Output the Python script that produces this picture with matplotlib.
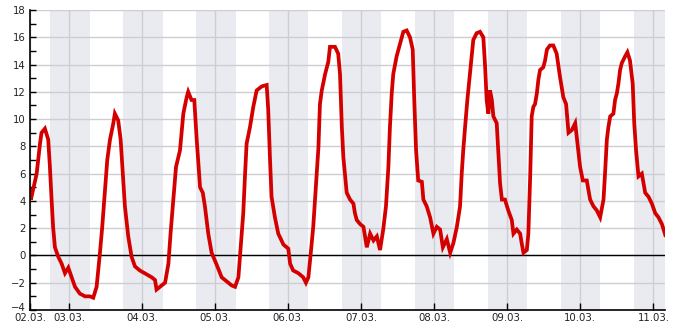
import matplotlib
matplotlib.use("Agg")
import matplotlib.pyplot as plt
import matplotlib.transforms as mtransforms
from matplotlib.ticker import MultipleLocator, FixedLocator

# hours since 02.03. 00:00
hours = [11.2, 11.4, 13.3, 14.4, 14.9, 16.0, 17.1, 17.65, 18.2, 18.7, 19.3, 20.4, 21.5, 22.6, 23.7,
         24.8, 25.9, 27.5, 29.2, 30.8, 31.9, 33.0, 34.1, 34.85, 35.7, 36.5, 37.4, 38.5, 39.0,
         40.1, 40.9, 41.6, 42.3, 43.4, 44.5, 45.6, 47.2, 49.5, 51.1, 52.2, 52.7, 53.8, 55.5,
         56.6, 57.3, 58.2, 59.1, 60.4, 61.5, 62.6, 63.1, 64.2, 65.1, 65.9, 67.0, 67.9, 68.6,
         69.7, 70.8, 72.5, 74.1, 75.75, 77.4, 78.5, 79.6, 80.1, 81.2, 81.8, 82.3, 83.4, 84.5,
         85.6, 87.3, 88.9, 89.4, 90.0, 90.5, 91.6, 92.7, 94.4, 96.0, 96.6, 97.6, 99.3, 100.9,
         101.8, 102.6, 103.4, 104.2, 105.3, 105.9, 106.4, 107.0, 108.1, 109.15, 109.7, 111.35,
         112.4, 113.0, 113.6, 114.1, 115.2, 116.3, 117.4, 117.9, 118.5, 119.6, 120.7, 121.8,
         122.9, 124.0, 125.1, 126.15, 127.2, 128.1, 128.9, 129.4, 130.0, 130.5, 131.6, 132.7,
         133.8, 134.9, 136.0, 136.9, 137.4, 138.0, 138.7, 139.9, 140.4, 141.5, 142.6, 143.7,
         144.8, 145.9, 146.8, 148.1, 149.2, 150.25, 151.4, 152.45, 153.0, 153.5, 154.1, 154.85,
         155.7, 156.3, 156.8, 157.9, 159.0, 160.1, 160.7, 161.2, 161.75, 162.3, 162.9, 163.4,
         164.5, 165.0, 165.6, 166.2, 167.2, 168.3, 169.45, 170.0, 171.1, 172.2, 172.7, 173.3,
         174.4, 174.9, 175.5, 176.0, 176.55, 177.1, 177.7, 178.2, 178.75, 179.8, 180.4, 181.0,
         182.0, 183.1, 184.2, 185.3, 186.4, 187.3, 188.1, 189.2, 190.3, 190.8, 191.9, 192.8,
         194.1, 195.2, 196.3, 197.4, 198.5, 199.6, 200.1, 200.7, 201.2, 201.8, 202.85, 203.4,
         204.0, 204.5, 205.05, 205.6, 206.7, 207.45, 208.3, 209.2, 209.7, 210.3, 211.1, 212.2,
         213.3, 214.4, 215.5, 216.6, 217.65, 218.8, 219.9]
temps = [4.8, 4.1, 6.0, 8.2, 9.0, 9.3, 8.5, 6.5, 4.1, 2.1, 0.6, -0.1, -0.6, -1.3, -0.9,
         -1.6, -2.3, -2.8, -3.0, -3.0, -3.1, -2.3, 0.2, 2.1, 4.6, 7.0, 8.5, 9.7, 10.4,
         9.9, 8.5, 6.0, 3.6, 1.4, -0.1, -0.8, -1.1, -1.4, -1.6, -1.8, -2.5, -2.3, -2.0,
         -0.6, 1.6, 4.1, 6.5, 7.7, 10.4, 11.6, 12.0, 11.4, 11.4, 8.5, 5.0, 4.6, 3.6,
         1.6, 0.2, -0.7, -1.6, -1.9, -2.2, -2.3, -1.6, -0.1, 3.1, 6.0, 8.2, 9.4, 10.9,
         12.1, 12.4, 12.5, 10.7, 7.0, 4.3, 2.8, 1.6, 0.8, 0.5, -0.6, -1.1, -1.3, -1.6,
         -2.0, -1.6, 0.2, 2.1, 5.8, 7.9, 11.1, 12.1, 13.3, 14.2, 15.3, 15.3,
         14.8, 13.3, 9.4, 7.2, 4.6, 4.1, 3.8, 3.1, 2.6, 2.3, 2.1, 0.6,
         1.6, 1.1, 1.4, 0.4, 1.9, 3.6, 6.5, 9.4, 11.9, 13.3, 14.6, 15.5,
         16.4, 16.5, 16.0, 15.1, 11.4, 7.7, 5.5, 5.4, 4.1, 3.6, 2.8, 1.6,
         2.1, 1.9, 0.6, 1.2, 0.2, 0.9, 2.1, 3.6, 6.0, 7.7, 9.4, 11.4,
         13.3, 14.6, 15.8, 16.3, 16.4, 16.0, 13.8, 11.4, 10.4, 12.1, 11.4, 10.2,
         9.7, 7.7, 5.3, 4.1, 4.1, 3.3, 2.6, 1.6, 1.9, 1.6, 0.9, 0.2,
         0.4, 1.6, 5.8, 10.2, 10.9, 11.1, 11.9, 12.9, 13.6, 13.8, 14.3, 15.1,
         15.4, 15.4, 14.8, 13.1, 11.6, 11.1, 9.0, 9.2, 9.7, 8.7, 6.5, 5.5,
         5.5, 4.1, 3.6, 3.3, 2.8, 4.1, 6.0, 8.5, 9.4, 10.2, 10.4, 11.4,
         11.9, 12.6, 13.6, 14.1, 14.6, 14.9, 14.3, 12.6, 9.7, 7.7, 5.8, 6.0,
         4.6, 4.3, 3.8, 3.1, 2.8, 2.3, 1.5]

# night shading: sunset (hour of day) and following sunrise (hour of next day)
night_days = [2, 3, 4, 5, 6, 7, 8, 9, 10]   # day-of-march on which night starts
sunset = [17.6, 17.6, 17.6, 17.6, 17.6, 17.6, 17.6, 17.6, 17.6]
sunrise = [6.8, 6.75, 6.75, 6.6, 6.4, 6.4, 6.45, 6.4, 6.35]

tick_labels = ["02.03.", "03.03.", "04.03.", "05.03.", "06.03.", "07.03.",
               "08.03.", "09.03.", "10.03.", "11.03."]

x_min, x_max = 11.2, 219.9
y_min, y_max = -4, 18

fig = plt.figure(figsize=(6.85, 3.3), dpi=100)
ax = fig.add_axes([0.0442, 0.0606, 0.9270, 0.9091])

for d, ss, sr in zip(night_days, sunset, sunrise):
    start = (d - 2) * 24 + ss
    end = (d - 1) * 24 + sr
    ax.axvspan(start, end, color="#eaebf1", lw=0, zorder=0)

ax.plot(hours, temps, color="#d40000", lw=2.7, zorder=3, solid_joinstyle="miter")
ax.axhline(0, color="black", lw=1.0, zorder=2)

ax.set_xlim(x_min, x_max)
ax.set_ylim(y_min, y_max)

day_ticks = [24 * k for k in range(1, 10)]
ax.xaxis.set_major_locator(FixedLocator([x_min] + day_ticks))
ax.set_xticklabels(tick_labels)
ax.yaxis.set_major_locator(MultipleLocator(2))
ax.yaxis.set_minor_locator(MultipleLocator(1))

ax.grid(True, which="major", color="#cdcdd2", lw=1.0, zorder=1)
ax.set_axisbelow(True)
for s in ["top", "right"]:
    ax.spines[s].set_visible(False)
for s in ["left", "bottom"]:
    ax.spines[s].set_color("black")
    ax.spines[s].set_linewidth(1.2)
    ax.spines[s].set_zorder(4)

ax.tick_params(axis="both", which="both", direction="in", colors="black",
               labelcolor="#222222", labelsize=7.3, width=1.0)
ax.tick_params(axis="x", which="major", length=5, pad=2.5)
ax.tick_params(axis="y", which="major", length=4, pad=3)
ax.tick_params(axis="y", which="minor", length=4)

# nudge the lowest y label up slightly so it clears the first date label
fig.canvas.draw()
for lbl in ax.get_yticklabels():
    if lbl.get_text().replace("\u2212", "-") == "-4":
        lbl.set_transform(lbl.get_transform() +
                          mtransforms.ScaledTranslation(0, 2 / 72, fig.dpi_scale_trans))

fig.savefig("out.png", dpi=100)
